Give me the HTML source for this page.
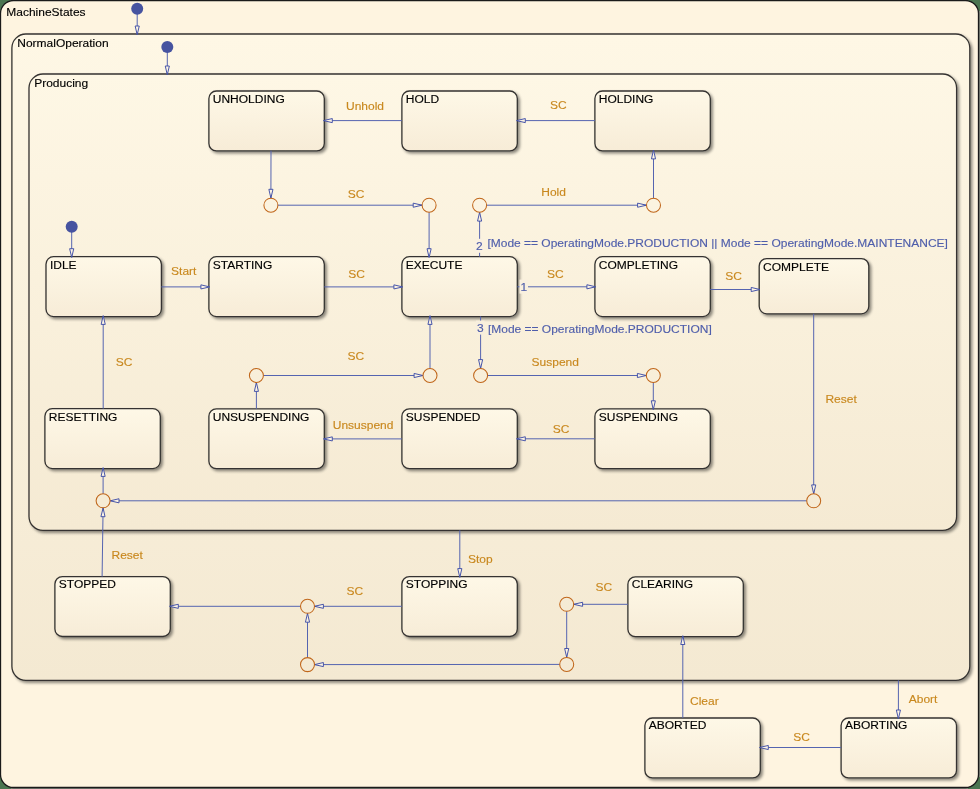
<!DOCTYPE html><html><head><meta charset="utf-8"><style>
html,body{margin:0;padding:0;background:#4a7550;overflow:hidden;}
svg{display:block;will-change:transform;}
text{font-family:"Liberation Sans", sans-serif;font-size:12px;}
</style></head><body>
<svg width="980" height="789" viewBox="0 0 980 789">
<defs>
<linearGradient id="gOuter" x1="0" y1="0" x2="0" y2="1"><stop offset="0" stop-color="#fef4e0"/><stop offset="1" stop-color="#fef4e0"/></linearGradient>
<linearGradient id="gNorm" gradientUnits="userSpaceOnUse" x1="0" y1="34" x2="0" y2="680"><stop offset="0" stop-color="#fef7e5"/><stop offset="1" stop-color="#f4e9d2"/></linearGradient>
<linearGradient id="gProd" gradientUnits="userSpaceOnUse" x1="0" y1="74" x2="0" y2="530"><stop offset="0" stop-color="#fef7e5"/><stop offset="1" stop-color="#f5eAd3"/></linearGradient>
<linearGradient id="gState" x1="0" y1="0" x2="0" y2="1"><stop offset="0" stop-color="#fef8e7"/><stop offset="1" stop-color="#f7ecd7"/></linearGradient>
<filter id="sh" x="-10%" y="-10%" width="130%" height="140%"><feGaussianBlur in="SourceAlpha" stdDeviation="1.6"/><feOffset dx="1.5" dy="2"/><feComponentTransfer><feFuncA type="linear" slope="0.45"/></feComponentTransfer><feMerge><feMergeNode/><feMergeNode in="SourceGraphic"/></feMerge></filter>
</defs>

<rect x="979" y="11" width="1" height="766" fill="#7d8279"/><rect x="11" y="788" width="957" height="1" fill="#7d8279"/>
<rect x="0.5" y="0.5" width="978" height="787" rx="13" fill="url(#gOuter)" stroke="#1a1a1a" stroke-width="1.3"/>
<text transform="translate(6.30,16.00) scale(1,0.92)" fill="#000" stroke="#000" stroke-width="0.15">MachineStates</text>
<rect x="11.9" y="34" width="957.9" height="646.3" rx="14" fill="url(#gNorm)" stroke="#353330" stroke-width="1.3" filter="url(#sh)"/>
<text transform="translate(17.30,46.80) scale(1,0.92)" fill="#000" stroke="#000" stroke-width="0.15">NormalOperation</text>
<rect x="29" y="74" width="927.6" height="456.4" rx="14" fill="url(#gProd)" stroke="#353330" stroke-width="1.3" filter="url(#sh)"/>
<text transform="translate(34.20,86.80) scale(1,0.92)" fill="#000" stroke="#000" stroke-width="0.15">Producing</text>
<rect x="208.9" y="91" width="115.4" height="59.9" rx="7.5" fill="url(#gState)" stroke="#353330" stroke-width="1.3" filter="url(#sh)"/>
<text transform="translate(212.80,102.90) scale(1,0.92)" fill="#000" stroke="#000" stroke-width="0.15">UNHOLDING</text>
<rect x="401.9" y="91" width="115.4" height="59.9" rx="7.5" fill="url(#gState)" stroke="#353330" stroke-width="1.3" filter="url(#sh)"/>
<text transform="translate(405.80,102.90) scale(1,0.92)" fill="#000" stroke="#000" stroke-width="0.15">HOLD</text>
<rect x="594.9" y="91" width="115.4" height="59.9" rx="7.5" fill="url(#gState)" stroke="#353330" stroke-width="1.3" filter="url(#sh)"/>
<text transform="translate(598.80,102.90) scale(1,0.92)" fill="#000" stroke="#000" stroke-width="0.15">HOLDING</text>
<rect x="46" y="256.7" width="115.4" height="59.9" rx="7.5" fill="url(#gState)" stroke="#353330" stroke-width="1.3" filter="url(#sh)"/>
<text transform="translate(49.90,268.60) scale(1,0.92)" fill="#000" stroke="#000" stroke-width="0.15">IDLE</text>
<rect x="208.9" y="256.7" width="115.4" height="59.9" rx="7.5" fill="url(#gState)" stroke="#353330" stroke-width="1.3" filter="url(#sh)"/>
<text transform="translate(212.80,268.60) scale(1,0.92)" fill="#000" stroke="#000" stroke-width="0.15">STARTING</text>
<rect x="401.9" y="256.7" width="115.4" height="59.9" rx="7.5" fill="url(#gState)" stroke="#353330" stroke-width="1.3" filter="url(#sh)"/>
<text transform="translate(405.80,268.60) scale(1,0.92)" fill="#000" stroke="#000" stroke-width="0.15">EXECUTE</text>
<rect x="594.9" y="256.7" width="115.4" height="59.9" rx="7.5" fill="url(#gState)" stroke="#353330" stroke-width="1.3" filter="url(#sh)"/>
<text transform="translate(598.80,268.60) scale(1,0.92)" fill="#000" stroke="#000" stroke-width="0.15">COMPLETING</text>
<rect x="44.9" y="408.7" width="115.4" height="59.9" rx="7.5" fill="url(#gState)" stroke="#353330" stroke-width="1.3" filter="url(#sh)"/>
<text transform="translate(48.80,420.60) scale(1,0.92)" fill="#000" stroke="#000" stroke-width="0.15">RESETTING</text>
<rect x="208.9" y="408.8" width="115.4" height="59.9" rx="7.5" fill="url(#gState)" stroke="#353330" stroke-width="1.3" filter="url(#sh)"/>
<text transform="translate(212.80,420.70) scale(1,0.92)" fill="#000" stroke="#000" stroke-width="0.15">UNSUSPENDING</text>
<rect x="401.9" y="408.8" width="115.4" height="59.9" rx="7.5" fill="url(#gState)" stroke="#353330" stroke-width="1.3" filter="url(#sh)"/>
<text transform="translate(405.80,420.70) scale(1,0.92)" fill="#000" stroke="#000" stroke-width="0.15">SUSPENDED</text>
<rect x="594.9" y="408.8" width="115.4" height="59.9" rx="7.5" fill="url(#gState)" stroke="#353330" stroke-width="1.3" filter="url(#sh)"/>
<text transform="translate(598.80,420.70) scale(1,0.92)" fill="#000" stroke="#000" stroke-width="0.15">SUSPENDING</text>
<rect x="54.9" y="576.6" width="115.4" height="59.9" rx="7.5" fill="url(#gState)" stroke="#353330" stroke-width="1.3" filter="url(#sh)"/>
<text transform="translate(58.80,587.80) scale(1,0.92)" fill="#000" stroke="#000" stroke-width="0.15">STOPPED</text>
<rect x="401.9" y="576.6" width="115.4" height="59.9" rx="7.5" fill="url(#gState)" stroke="#353330" stroke-width="1.3" filter="url(#sh)"/>
<text transform="translate(405.80,587.80) scale(1,0.92)" fill="#000" stroke="#000" stroke-width="0.15">STOPPING</text>
<rect x="627.9" y="576.8" width="115.4" height="59.9" rx="7.5" fill="url(#gState)" stroke="#353330" stroke-width="1.3" filter="url(#sh)"/>
<text transform="translate(631.80,588.00) scale(1,0.92)" fill="#000" stroke="#000" stroke-width="0.15">CLEARING</text>
<rect x="644.9" y="718" width="115.4" height="59.9" rx="7.5" fill="url(#gState)" stroke="#353330" stroke-width="1.3" filter="url(#sh)"/>
<text transform="translate(648.80,729.20) scale(1,0.92)" fill="#000" stroke="#000" stroke-width="0.15">ABORTED</text>
<rect x="841.1" y="718" width="115.4" height="59.9" rx="7.5" fill="url(#gState)" stroke="#353330" stroke-width="1.3" filter="url(#sh)"/>
<text transform="translate(845.00,729.20) scale(1,0.92)" fill="#000" stroke="#000" stroke-width="0.15">ABORTING</text>
<rect x="759.2" y="258.6" width="109.6" height="55.2" rx="7.5" fill="url(#gState)" stroke="#353330" stroke-width="1.3" filter="url(#sh)"/>
<text transform="translate(763.10,270.50) scale(1,0.92)" fill="#000" stroke="#000" stroke-width="0.15">COMPLETE</text>
<polyline points="137.20,9.00 137.20,34.00" fill="none" stroke="#5564b0" stroke-width="1.0"/>
<path d="M137.20,34.80 L135.15,26.00 L139.25,26.00 Z" fill="#fbf3e4" stroke="#3f4ea6" stroke-width="0.95" stroke-linejoin="miter"/>
<polyline points="167.30,47.00 167.30,74.00" fill="none" stroke="#5564b0" stroke-width="1.0"/>
<path d="M167.30,74.80 L165.25,66.00 L169.35,66.00 Z" fill="#fbf3e4" stroke="#3f4ea6" stroke-width="0.95" stroke-linejoin="miter"/>
<polyline points="71.70,226.70 71.70,256.70" fill="none" stroke="#5564b0" stroke-width="1.0"/>
<path d="M71.70,257.50 L69.65,248.70 L73.75,248.70 Z" fill="#fbf3e4" stroke="#3f4ea6" stroke-width="0.95" stroke-linejoin="miter"/>
<polyline points="401.90,120.60 324.30,120.60" fill="none" stroke="#5564b0" stroke-width="1.0"/>
<path d="M323.50,120.60 L332.30,118.55 L332.30,122.65 Z" fill="#fbf3e4" stroke="#3f4ea6" stroke-width="0.95" stroke-linejoin="miter"/>
<polyline points="594.90,120.60 517.30,120.60" fill="none" stroke="#5564b0" stroke-width="1.0"/>
<path d="M516.50,120.60 L525.30,118.55 L525.30,122.65 Z" fill="#fbf3e4" stroke="#3f4ea6" stroke-width="0.95" stroke-linejoin="miter"/>
<polyline points="271.00,150.60 270.90,198.20" fill="none" stroke="#5564b0" stroke-width="1.0"/>
<path d="M270.90,198.10 L268.87,189.30 L272.97,189.30 Z" fill="#fbf3e4" stroke="#3f4ea6" stroke-width="0.95" stroke-linejoin="miter"/>
<polyline points="277.90,205.20 422.10,205.20" fill="none" stroke="#5564b0" stroke-width="1.0"/>
<path d="M422.00,205.20 L413.20,207.25 L413.20,203.15 Z" fill="#fbf3e4" stroke="#3f4ea6" stroke-width="0.95" stroke-linejoin="miter"/>
<polyline points="429.10,212.20 429.10,256.70" fill="none" stroke="#5564b0" stroke-width="1.0"/>
<path d="M429.10,257.50 L427.05,248.70 L431.15,248.70 Z" fill="#fbf3e4" stroke="#3f4ea6" stroke-width="0.95" stroke-linejoin="miter"/>
<polyline points="486.60,205.20 646.50,205.20" fill="none" stroke="#5564b0" stroke-width="1.0"/>
<path d="M646.40,205.20 L637.60,207.25 L637.60,203.15 Z" fill="#fbf3e4" stroke="#3f4ea6" stroke-width="0.95" stroke-linejoin="miter"/>
<polyline points="653.50,198.20 653.50,150.90" fill="none" stroke="#5564b0" stroke-width="1.0"/>
<path d="M653.50,150.10 L655.55,158.90 L651.45,158.90 Z" fill="#fbf3e4" stroke="#3f4ea6" stroke-width="0.95" stroke-linejoin="miter"/>
<polyline points="479.60,256.70 479.60,212.20" fill="none" stroke="#5564b0" stroke-width="1.0"/>
<path d="M479.60,212.30 L481.65,221.10 L477.55,221.10 Z" fill="#fbf3e4" stroke="#3f4ea6" stroke-width="0.95" stroke-linejoin="miter"/>
<polyline points="161.30,286.90 208.90,286.90" fill="none" stroke="#5564b0" stroke-width="1.0"/>
<path d="M209.70,286.90 L200.90,288.95 L200.90,284.85 Z" fill="#fbf3e4" stroke="#3f4ea6" stroke-width="0.95" stroke-linejoin="miter"/>
<polyline points="324.30,286.90 401.90,286.90" fill="none" stroke="#5564b0" stroke-width="1.0"/>
<path d="M402.70,286.90 L393.90,288.95 L393.90,284.85 Z" fill="#fbf3e4" stroke="#3f4ea6" stroke-width="0.95" stroke-linejoin="miter"/>
<polyline points="517.30,286.80 594.90,286.80" fill="none" stroke="#5564b0" stroke-width="1.0"/>
<path d="M595.70,286.80 L586.90,288.85 L586.90,284.75 Z" fill="#fbf3e4" stroke="#3f4ea6" stroke-width="0.95" stroke-linejoin="miter"/>
<polyline points="710.30,289.50 759.20,289.50" fill="none" stroke="#5564b0" stroke-width="1.0"/>
<path d="M760.00,289.50 L751.20,291.55 L751.20,287.45 Z" fill="#fbf3e4" stroke="#3f4ea6" stroke-width="0.95" stroke-linejoin="miter"/>
<polyline points="480.60,316.40 480.60,368.50" fill="none" stroke="#5564b0" stroke-width="1.0"/>
<path d="M480.60,368.40 L478.55,359.60 L482.65,359.60 Z" fill="#fbf3e4" stroke="#3f4ea6" stroke-width="0.95" stroke-linejoin="miter"/>
<polyline points="487.60,375.50 646.30,375.50" fill="none" stroke="#5564b0" stroke-width="1.0"/>
<path d="M646.20,375.50 L637.40,377.55 L637.40,373.45 Z" fill="#fbf3e4" stroke="#3f4ea6" stroke-width="0.95" stroke-linejoin="miter"/>
<polyline points="653.30,382.50 653.30,408.80" fill="none" stroke="#5564b0" stroke-width="1.0"/>
<path d="M653.30,409.60 L651.25,400.80 L655.35,400.80 Z" fill="#fbf3e4" stroke="#3f4ea6" stroke-width="0.95" stroke-linejoin="miter"/>
<polyline points="594.90,438.80 517.30,438.80" fill="none" stroke="#5564b0" stroke-width="1.0"/>
<path d="M516.50,438.80 L525.30,436.75 L525.30,440.85 Z" fill="#fbf3e4" stroke="#3f4ea6" stroke-width="0.95" stroke-linejoin="miter"/>
<polyline points="401.90,438.90 324.30,438.90" fill="none" stroke="#5564b0" stroke-width="1.0"/>
<path d="M323.50,438.90 L332.30,436.85 L332.30,440.95 Z" fill="#fbf3e4" stroke="#3f4ea6" stroke-width="0.95" stroke-linejoin="miter"/>
<polyline points="256.40,408.80 256.40,382.50" fill="none" stroke="#5564b0" stroke-width="1.0"/>
<path d="M256.40,382.60 L258.45,391.40 L254.35,391.40 Z" fill="#fbf3e4" stroke="#3f4ea6" stroke-width="0.95" stroke-linejoin="miter"/>
<polyline points="263.40,375.50 423.00,375.50" fill="none" stroke="#5564b0" stroke-width="1.0"/>
<path d="M422.90,375.50 L414.10,377.55 L414.10,373.45 Z" fill="#fbf3e4" stroke="#3f4ea6" stroke-width="0.95" stroke-linejoin="miter"/>
<polyline points="430.00,368.50 430.00,316.40" fill="none" stroke="#5564b0" stroke-width="1.0"/>
<path d="M430.00,315.60 L432.05,324.40 L427.95,324.40 Z" fill="#fbf3e4" stroke="#3f4ea6" stroke-width="0.95" stroke-linejoin="miter"/>
<polyline points="103.20,408.70 103.20,316.40" fill="none" stroke="#5564b0" stroke-width="1.0"/>
<path d="M103.20,315.60 L105.25,324.40 L101.15,324.40 Z" fill="#fbf3e4" stroke="#3f4ea6" stroke-width="0.95" stroke-linejoin="miter"/>
<polyline points="813.70,313.80 813.70,493.80" fill="none" stroke="#5564b0" stroke-width="1.0"/>
<path d="M813.70,493.70 L811.65,484.90 L815.75,484.90 Z" fill="#fbf3e4" stroke="#3f4ea6" stroke-width="0.95" stroke-linejoin="miter"/>
<polyline points="806.70,500.80 110.10,500.80" fill="none" stroke="#5564b0" stroke-width="1.0"/>
<path d="M110.20,500.80 L119.00,498.75 L119.00,502.85 Z" fill="#fbf3e4" stroke="#3f4ea6" stroke-width="0.95" stroke-linejoin="miter"/>
<polyline points="103.10,493.80 103.10,468.40" fill="none" stroke="#5564b0" stroke-width="1.0"/>
<path d="M103.10,467.60 L105.15,476.40 L101.05,476.40 Z" fill="#fbf3e4" stroke="#3f4ea6" stroke-width="0.95" stroke-linejoin="miter"/>
<polyline points="102.10,576.60 103.10,507.80" fill="none" stroke="#5564b0" stroke-width="1.0"/>
<path d="M103.10,507.90 L105.02,516.73 L100.92,516.67 Z" fill="#fbf3e4" stroke="#3f4ea6" stroke-width="0.95" stroke-linejoin="miter"/>
<polyline points="459.80,530.40 459.80,576.60" fill="none" stroke="#5564b0" stroke-width="1.0"/>
<path d="M459.80,577.40 L457.75,568.60 L461.85,568.60 Z" fill="#fbf3e4" stroke="#3f4ea6" stroke-width="0.95" stroke-linejoin="miter"/>
<polyline points="401.90,606.30 314.50,606.30" fill="none" stroke="#5564b0" stroke-width="1.0"/>
<path d="M314.60,606.30 L323.40,604.25 L323.40,608.35 Z" fill="#fbf3e4" stroke="#3f4ea6" stroke-width="0.95" stroke-linejoin="miter"/>
<polyline points="300.50,606.30 170.30,606.30" fill="none" stroke="#5564b0" stroke-width="1.0"/>
<path d="M169.50,606.30 L178.30,604.25 L178.30,608.35 Z" fill="#fbf3e4" stroke="#3f4ea6" stroke-width="0.95" stroke-linejoin="miter"/>
<polyline points="307.50,657.60 307.50,613.30" fill="none" stroke="#5564b0" stroke-width="1.0"/>
<path d="M307.50,613.40 L309.55,622.20 L305.45,622.20 Z" fill="#fbf3e4" stroke="#3f4ea6" stroke-width="0.95" stroke-linejoin="miter"/>
<polyline points="559.70,664.40 314.50,664.60" fill="none" stroke="#5564b0" stroke-width="1.0"/>
<path d="M314.60,664.60 L323.40,662.54 L323.40,666.64 Z" fill="#fbf3e4" stroke="#3f4ea6" stroke-width="0.95" stroke-linejoin="miter"/>
<polyline points="566.70,611.30 566.70,657.40" fill="none" stroke="#5564b0" stroke-width="1.0"/>
<path d="M566.70,657.30 L564.65,648.50 L568.75,648.50 Z" fill="#fbf3e4" stroke="#3f4ea6" stroke-width="0.95" stroke-linejoin="miter"/>
<polyline points="627.90,604.30 573.70,604.30" fill="none" stroke="#5564b0" stroke-width="1.0"/>
<path d="M573.80,604.30 L582.60,602.25 L582.60,606.35 Z" fill="#fbf3e4" stroke="#3f4ea6" stroke-width="0.95" stroke-linejoin="miter"/>
<polyline points="682.80,718.00 682.80,636.50" fill="none" stroke="#5564b0" stroke-width="1.0"/>
<path d="M682.80,635.70 L684.85,644.50 L680.75,644.50 Z" fill="#fbf3e4" stroke="#3f4ea6" stroke-width="0.95" stroke-linejoin="miter"/>
<polyline points="898.40,680.30 898.40,718.00" fill="none" stroke="#5564b0" stroke-width="1.0"/>
<path d="M898.40,718.80 L896.35,710.00 L900.45,710.00 Z" fill="#fbf3e4" stroke="#3f4ea6" stroke-width="0.95" stroke-linejoin="miter"/>
<polyline points="841.10,747.50 760.30,747.50" fill="none" stroke="#5564b0" stroke-width="1.0"/>
<path d="M759.50,747.50 L768.30,745.45 L768.30,749.55 Z" fill="#fbf3e4" stroke="#3f4ea6" stroke-width="0.95" stroke-linejoin="miter"/>
<circle cx="270.9" cy="205.2" r="7.0" fill="none" stroke="#c0661a" stroke-width="1.05"/>
<circle cx="429.1" cy="205.2" r="7.0" fill="none" stroke="#c0661a" stroke-width="1.05"/>
<circle cx="479.6" cy="205.2" r="7.0" fill="none" stroke="#c0661a" stroke-width="1.05"/>
<circle cx="653.5" cy="205.2" r="7.0" fill="none" stroke="#c0661a" stroke-width="1.05"/>
<circle cx="256.4" cy="375.5" r="7.0" fill="none" stroke="#c0661a" stroke-width="1.05"/>
<circle cx="430.0" cy="375.5" r="7.0" fill="none" stroke="#c0661a" stroke-width="1.05"/>
<circle cx="480.6" cy="375.5" r="7.0" fill="none" stroke="#c0661a" stroke-width="1.05"/>
<circle cx="653.3" cy="375.5" r="7.0" fill="none" stroke="#c0661a" stroke-width="1.05"/>
<circle cx="813.7" cy="500.8" r="7.0" fill="none" stroke="#c0661a" stroke-width="1.05"/>
<circle cx="103.1" cy="500.8" r="7.0" fill="none" stroke="#c0661a" stroke-width="1.05"/>
<circle cx="307.5" cy="606.3" r="7.0" fill="none" stroke="#c0661a" stroke-width="1.05"/>
<circle cx="307.5" cy="664.6" r="7.0" fill="none" stroke="#c0661a" stroke-width="1.05"/>
<circle cx="566.7" cy="664.4" r="7.0" fill="none" stroke="#c0661a" stroke-width="1.05"/>
<circle cx="566.7" cy="604.3" r="7.0" fill="none" stroke="#c0661a" stroke-width="1.05"/>
<circle cx="137.2" cy="8.8" r="6" fill="#4653a0"/>
<circle cx="167.3" cy="47" r="6" fill="#4653a0"/>
<circle cx="71.7" cy="226.7" r="6" fill="#4653a0"/>
<text transform="translate(346.00,110.00) scale(1,0.92)" fill="#c9881e" stroke="#c9881e" stroke-width="0.15">Unhold</text>
<text transform="translate(550.00,109.00) scale(1,0.92)" fill="#c9881e" stroke="#c9881e" stroke-width="0.15">SC</text>
<text transform="translate(347.80,197.80) scale(1,0.92)" fill="#c9881e" stroke="#c9881e" stroke-width="0.15">SC</text>
<text transform="translate(541.30,195.90) scale(1,0.92)" fill="#c9881e" stroke="#c9881e" stroke-width="0.15">Hold</text>
<text transform="translate(171.10,275.00) scale(1,0.92)" fill="#c9881e" stroke="#c9881e" stroke-width="0.15">Start</text>
<text transform="translate(348.30,278.10) scale(1,0.92)" fill="#c9881e" stroke="#c9881e" stroke-width="0.15">SC</text>
<text transform="translate(547.00,277.50) scale(1,0.92)" fill="#c9881e" stroke="#c9881e" stroke-width="0.15">SC</text>
<text transform="translate(725.20,279.80) scale(1,0.92)" fill="#c9881e" stroke="#c9881e" stroke-width="0.15">SC</text>
<text transform="translate(531.60,365.90) scale(1,0.92)" fill="#c9881e" stroke="#c9881e" stroke-width="0.15">Suspend</text>
<text transform="translate(552.70,432.70) scale(1,0.92)" fill="#c9881e" stroke="#c9881e" stroke-width="0.15">SC</text>
<text transform="translate(332.80,429.00) scale(1,0.92)" fill="#c9881e" stroke="#c9881e" stroke-width="0.15">Unsuspend</text>
<text transform="translate(347.40,359.80) scale(1,0.92)" fill="#c9881e" stroke="#c9881e" stroke-width="0.15">SC</text>
<text transform="translate(115.70,366.00) scale(1,0.92)" fill="#c9881e" stroke="#c9881e" stroke-width="0.15">SC</text>
<text transform="translate(825.40,402.60) scale(1,0.92)" fill="#c9881e" stroke="#c9881e" stroke-width="0.15">Reset</text>
<text transform="translate(111.50,558.50) scale(1,0.92)" fill="#c9881e" stroke="#c9881e" stroke-width="0.15">Reset</text>
<text transform="translate(468.00,562.60) scale(1,0.92)" fill="#c9881e" stroke="#c9881e" stroke-width="0.15">Stop</text>
<text transform="translate(346.50,594.60) scale(1,0.92)" fill="#c9881e" stroke="#c9881e" stroke-width="0.15">SC</text>
<text transform="translate(595.40,590.80) scale(1,0.92)" fill="#c9881e" stroke="#c9881e" stroke-width="0.15">SC</text>
<text transform="translate(690.00,705.00) scale(1,0.92)" fill="#c9881e" stroke="#c9881e" stroke-width="0.15">Clear</text>
<text transform="translate(908.80,702.60) scale(1,0.92)" fill="#c9881e" stroke="#c9881e" stroke-width="0.15">Abort</text>
<text transform="translate(793.20,740.80) scale(1,0.92)" fill="#c9881e" stroke="#c9881e" stroke-width="0.15">SC</text>
<text transform="translate(487.40,247.00) scale(1,0.92)" fill="#4f5eab" stroke="#4f5eab" stroke-width="0.15">[Mode == OperatingMode.PRODUCTION || Mode == OperatingMode.MAINTENANCE]</text>
<text transform="translate(487.90,333.40) scale(1,0.92)" fill="#4f5eab" stroke="#4f5eab" stroke-width="0.15">[Mode == OperatingMode.PRODUCTION]</text>
<rect x="475.0" y="238.8" width="8.5" height="14" fill="#faf1e1"/>
<text transform="translate(476.00,249.80) scale(1,0.92)" fill="#4f5eab" stroke="#4f5eab" stroke-width="0.15">2</text>
<rect x="519.5" y="279.6" width="8.5" height="14" fill="#f9f0df"/>
<text transform="translate(520.50,290.60) scale(1,0.92)" fill="#4f5eab" stroke="#4f5eab" stroke-width="0.15">1</text>
<rect x="476.0" y="320.6" width="8.5" height="14" fill="#f8efdd"/>
<text transform="translate(477.00,331.60) scale(1,0.92)" fill="#4f5eab" stroke="#4f5eab" stroke-width="0.15">3</text>
</svg></body></html>
